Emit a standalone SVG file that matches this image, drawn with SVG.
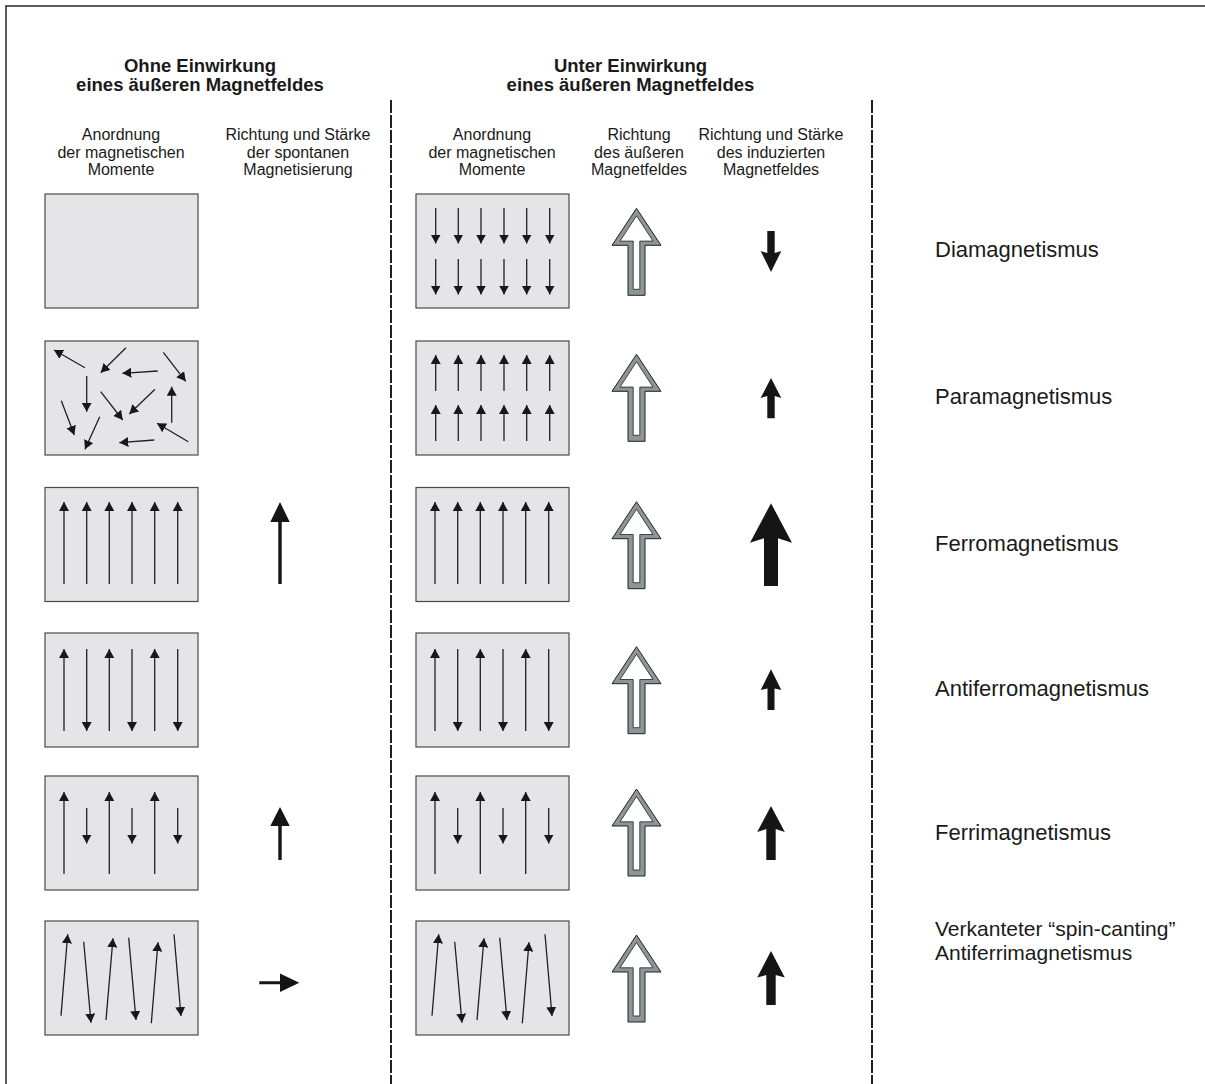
<svg xmlns="http://www.w3.org/2000/svg" xmlns:xlink="http://www.w3.org/1999/xlink" width="1205" height="1084" viewBox="0 0 1205 1084">
<style>
text{font-family:"Liberation Sans",Arial,sans-serif;fill:#1a1a1a}
.h{font-size:18.5px;font-weight:bold;text-anchor:middle}
.s{font-size:16px;text-anchor:middle}
.l{font-size:22px}
.l2{font-size:21px}
.box{fill:#e5e5e8;stroke:#4a4a4a;stroke-width:1.2}
.m{stroke:#231f20;stroke-width:1.3;fill:none}
.blk{fill:#151515}
.dash{stroke:#231f20;stroke-width:2;stroke-dasharray:13 2;fill:none}
</style>
<defs>
<marker id="ah" markerUnits="userSpaceOnUse" markerWidth="10" markerHeight="10" refX="9" refY="5" orient="auto" viewBox="0 0 10 10">
<path d="M0,0 L9,5 L0,10 z" fill="#1a1718"/>
</marker>
<g id="hollow">
<polygon points="0,0 24.5,37 8.5,37 8.5,87 -8.5,87 -8.5,37 -24.5,37" fill="#8c9598" stroke="#222" stroke-width="1"/>
<polygon points="0,7.5 16.5,32.8 3.3,32.8 3.3,81 -3.3,81 -3.3,32.8 -16.5,32.8" fill="#fff" stroke="#222" stroke-width="0.8"/>
</g>
</defs>
<rect x="6" y="6" width="1250" height="1130" fill="#fff" stroke="#333" stroke-width="1.6"/>

<g id="dividers">
<line class="dash" x1="391" y1="100" x2="391" y2="1084"/>
<line class="dash" x1="872" y1="100" x2="872" y2="1084"/>
</g>

<g id="header-left">
<text class="h" x="200" y="71.5">Ohne Einwirkung</text>
<text class="h" x="200" y="91">eines äußeren Magnetfeldes</text>
<text class="s" x="121" y="140">Anordnung</text>
<text class="s" x="121" y="157.5">der magnetischen</text>
<text class="s" x="121" y="175">Momente</text>
<text class="s" x="298" y="140">Richtung und Stärke</text>
<text class="s" x="298" y="157.5">der spontanen</text>
<text class="s" x="298" y="175">Magnetisierung</text>
</g>
<g id="header-right">
<text class="h" x="630.5" y="71.5">Unter Einwirkung</text>
<text class="h" x="630.5" y="91">eines äußeren Magnetfeldes</text>
<text class="s" x="492" y="140">Anordnung</text>
<text class="s" x="492" y="157.5">der magnetischen</text>
<text class="s" x="492" y="175">Momente</text>
<text class="s" x="639" y="140">Richtung</text>
<text class="s" x="639" y="157.5">des äußeren</text>
<text class="s" x="639" y="175">Magnetfeldes</text>
<text class="s" x="771" y="140">Richtung und Stärke</text>
<text class="s" x="771" y="157.5">des induzierten</text>
<text class="s" x="771" y="175">Magnetfeldes</text>
</g>

<!-- Row 1: Diamagnetismus -->
<g id="dia">
<rect class="box" x="45" y="194" width="153" height="114"/>
<rect class="box" x="416" y="194" width="153" height="114"/>
<g>
<line class="m" x1="435.7" y1="208" x2="435.7" y2="243.5" marker-end="url(#ah)"/>
<line class="m" x1="458.3" y1="208" x2="458.3" y2="243.5" marker-end="url(#ah)"/>
<line class="m" x1="481" y1="208" x2="481" y2="243.5" marker-end="url(#ah)"/>
<line class="m" x1="504" y1="208" x2="504" y2="243.5" marker-end="url(#ah)"/>
<line class="m" x1="526.7" y1="208" x2="526.7" y2="243.5" marker-end="url(#ah)"/>
<line class="m" x1="549.7" y1="208" x2="549.7" y2="243.5" marker-end="url(#ah)"/>
<line class="m" x1="435.7" y1="259" x2="435.7" y2="294.5" marker-end="url(#ah)"/>
<line class="m" x1="458.3" y1="259" x2="458.3" y2="294.5" marker-end="url(#ah)"/>
<line class="m" x1="481" y1="259" x2="481" y2="294.5" marker-end="url(#ah)"/>
<line class="m" x1="504" y1="259" x2="504" y2="294.5" marker-end="url(#ah)"/>
<line class="m" x1="526.7" y1="259" x2="526.7" y2="294.5" marker-end="url(#ah)"/>
<line class="m" x1="549.7" y1="259" x2="549.7" y2="294.5" marker-end="url(#ah)"/>
</g>
<use xlink:href="#hollow" href="#hollow" x="636.5" y="208.3"/>
<polygon class="blk" points="767.3,231 774.7,231 774.7,253 781.3,251 771,272 760.7,251 767.3,253"/>
<text class="l" x="935" y="257">Diamagnetismus</text>
</g>

<!-- Row 2: Paramagnetismus -->
<g id="para">
<rect class="box" x="45" y="341" width="153" height="114"/>
<g>
<line class="m" x1="85" y1="367.7" x2="54" y2="350" marker-end="url(#ah)"/>
<line class="m" x1="126" y1="347.7" x2="100.7" y2="372.7" marker-end="url(#ah)"/>
<line class="m" x1="157.7" y1="371" x2="122.3" y2="373.3" marker-end="url(#ah)"/>
<line class="m" x1="163.3" y1="352.3" x2="185.7" y2="381.3" marker-end="url(#ah)"/>
<line class="m" x1="86.7" y1="376" x2="86.7" y2="411.7" marker-end="url(#ah)"/>
<line class="m" x1="100.7" y1="391.7" x2="122.7" y2="420" marker-end="url(#ah)"/>
<line class="m" x1="155" y1="389.3" x2="129.3" y2="414" marker-end="url(#ah)"/>
<line class="m" x1="171.7" y1="422.7" x2="171.7" y2="386.7" marker-end="url(#ah)"/>
<line class="m" x1="61.3" y1="400.7" x2="74.3" y2="435" marker-end="url(#ah)"/>
<line class="m" x1="99.7" y1="416.7" x2="85" y2="449.3" marker-end="url(#ah)"/>
<line class="m" x1="154.3" y1="440" x2="119.3" y2="442.7" marker-end="url(#ah)"/>
<line class="m" x1="188.3" y1="441.7" x2="157" y2="423.3" marker-end="url(#ah)"/>
</g>
<rect class="box" x="416" y="341" width="153" height="114"/>
<g>
<line class="m" x1="435.7" y1="391" x2="435.7" y2="355" marker-end="url(#ah)"/>
<line class="m" x1="458.3" y1="391" x2="458.3" y2="355" marker-end="url(#ah)"/>
<line class="m" x1="481" y1="391" x2="481" y2="355" marker-end="url(#ah)"/>
<line class="m" x1="504" y1="391" x2="504" y2="355" marker-end="url(#ah)"/>
<line class="m" x1="526.7" y1="391" x2="526.7" y2="355" marker-end="url(#ah)"/>
<line class="m" x1="549.7" y1="391" x2="549.7" y2="355" marker-end="url(#ah)"/>
<line class="m" x1="435.7" y1="441" x2="435.7" y2="405" marker-end="url(#ah)"/>
<line class="m" x1="458.3" y1="441" x2="458.3" y2="405" marker-end="url(#ah)"/>
<line class="m" x1="481" y1="441" x2="481" y2="405" marker-end="url(#ah)"/>
<line class="m" x1="504" y1="441" x2="504" y2="405" marker-end="url(#ah)"/>
<line class="m" x1="526.7" y1="441" x2="526.7" y2="405" marker-end="url(#ah)"/>
<line class="m" x1="549.7" y1="441" x2="549.7" y2="405" marker-end="url(#ah)"/>
</g>
<use xlink:href="#hollow" href="#hollow" x="636.5" y="354.3"/>
<polygon class="blk" points="771,378 781.3,398 774.7,396 774.7,418.3 767.3,418.3 767.3,396 760.7,398"/>
<text class="l" x="935" y="404">Paramagnetismus</text>
</g>

<!-- Row 3: Ferromagnetismus -->
<g id="ferro">
<rect class="box" x="45" y="487.5" width="153" height="114"/>
<g>
<line class="m" x1="64" y1="584" x2="64" y2="502" marker-end="url(#ah)"/>
<line class="m" x1="86.7" y1="584" x2="86.7" y2="502" marker-end="url(#ah)"/>
<line class="m" x1="109.3" y1="584" x2="109.3" y2="502" marker-end="url(#ah)"/>
<line class="m" x1="132" y1="584" x2="132" y2="502" marker-end="url(#ah)"/>
<line class="m" x1="154.7" y1="584" x2="154.7" y2="502" marker-end="url(#ah)"/>
<line class="m" x1="177.7" y1="584" x2="177.7" y2="502" marker-end="url(#ah)"/>
</g>
<polygon class="blk" points="280,502 289.7,522 281.7,522 281.7,584 278.3,584 278.3,522 270.3,522"/>
<rect class="box" x="416" y="487.5" width="153" height="114"/>
<g>
<line class="m" x1="435" y1="584" x2="435" y2="502" marker-end="url(#ah)"/>
<line class="m" x1="457.7" y1="584" x2="457.7" y2="502" marker-end="url(#ah)"/>
<line class="m" x1="480.3" y1="584" x2="480.3" y2="502" marker-end="url(#ah)"/>
<line class="m" x1="503" y1="584" x2="503" y2="502" marker-end="url(#ah)"/>
<line class="m" x1="525.7" y1="584" x2="525.7" y2="502" marker-end="url(#ah)"/>
<line class="m" x1="548.7" y1="584" x2="548.7" y2="502" marker-end="url(#ah)"/>
</g>
<use xlink:href="#hollow" href="#hollow" x="636.5" y="501.7"/>
<polygon class="blk" points="771,503.3 792,542.7 778,538.3 778,586 764,586 764,538.3 750,542.7"/>
<text class="l" x="935" y="550.5">Ferromagnetismus</text>
</g>

<!-- Row 4: Antiferromagnetismus -->
<g id="antiferro">
<rect class="box" x="45" y="633" width="153" height="114"/>
<g>
<line class="m" x1="64" y1="731" x2="64" y2="649" marker-end="url(#ah)"/>
<line class="m" x1="86.7" y1="649" x2="86.7" y2="731" marker-end="url(#ah)"/>
<line class="m" x1="109.3" y1="731" x2="109.3" y2="649" marker-end="url(#ah)"/>
<line class="m" x1="132" y1="649" x2="132" y2="731" marker-end="url(#ah)"/>
<line class="m" x1="154.7" y1="731" x2="154.7" y2="649" marker-end="url(#ah)"/>
<line class="m" x1="177.7" y1="649" x2="177.7" y2="731" marker-end="url(#ah)"/>
</g>
<rect class="box" x="416" y="633" width="153" height="114"/>
<g>
<line class="m" x1="435" y1="731" x2="435" y2="649" marker-end="url(#ah)"/>
<line class="m" x1="457.7" y1="649" x2="457.7" y2="731" marker-end="url(#ah)"/>
<line class="m" x1="480.3" y1="731" x2="480.3" y2="649" marker-end="url(#ah)"/>
<line class="m" x1="503" y1="649" x2="503" y2="731" marker-end="url(#ah)"/>
<line class="m" x1="525.7" y1="731" x2="525.7" y2="649" marker-end="url(#ah)"/>
<line class="m" x1="548.7" y1="649" x2="548.7" y2="731" marker-end="url(#ah)"/>
</g>
<use xlink:href="#hollow" href="#hollow" x="636.5" y="646.7"/>
<polygon class="blk" points="771,669.3 781.3,690 774.5,688.5 774.5,710 767.5,710 767.5,688.5 760.7,690"/>
<text class="l" x="935" y="696">Antiferromagnetismus</text>
</g>

<!-- Row 5: Ferrimagnetismus -->
<g id="ferri">
<rect class="box" x="45" y="776" width="153" height="114"/>
<g>
<line class="m" x1="64" y1="874" x2="64" y2="792" marker-end="url(#ah)"/>
<line class="m" x1="86.7" y1="808" x2="86.7" y2="843.5" marker-end="url(#ah)"/>
<line class="m" x1="109.3" y1="874" x2="109.3" y2="792" marker-end="url(#ah)"/>
<line class="m" x1="132" y1="808" x2="132" y2="843.5" marker-end="url(#ah)"/>
<line class="m" x1="154.7" y1="874" x2="154.7" y2="792" marker-end="url(#ah)"/>
<line class="m" x1="177.7" y1="808" x2="177.7" y2="843.5" marker-end="url(#ah)"/>
</g>
<polygon class="blk" points="280,807 289.7,826 281.7,826 281.7,860 278.3,860 278.3,826 270.3,826"/>
<rect class="box" x="416" y="776" width="153" height="114"/>
<g>
<line class="m" x1="435" y1="874" x2="435" y2="792" marker-end="url(#ah)"/>
<line class="m" x1="457.7" y1="808" x2="457.7" y2="843.5" marker-end="url(#ah)"/>
<line class="m" x1="480.3" y1="874" x2="480.3" y2="792" marker-end="url(#ah)"/>
<line class="m" x1="503" y1="808" x2="503" y2="843.5" marker-end="url(#ah)"/>
<line class="m" x1="525.7" y1="874" x2="525.7" y2="792" marker-end="url(#ah)"/>
<line class="m" x1="548.7" y1="808" x2="548.7" y2="843.5" marker-end="url(#ah)"/>
</g>
<use xlink:href="#hollow" href="#hollow" x="636.5" y="789"/>
<polygon class="blk" points="771,806 784.8,832 775.7,829 775.7,860 766.3,860 766.3,829 757.2,832"/>
<text class="l" x="935" y="839.5">Ferrimagnetismus</text>
</g>

<!-- Row 6: Verkanteter Antiferrimagnetismus -->
<g id="canted">
<rect class="box" x="45" y="921" width="153" height="114"/>
<g>
<line class="m" x1="61" y1="1015.7" x2="67.7" y2="934.3" marker-end="url(#ah)"/>
<line class="m" x1="83.7" y1="941.7" x2="91" y2="1022.7" marker-end="url(#ah)"/>
<line class="m" x1="106" y1="1020" x2="113" y2="938.3" marker-end="url(#ah)"/>
<line class="m" x1="128.7" y1="937.7" x2="136" y2="1020" marker-end="url(#ah)"/>
<line class="m" x1="151.3" y1="1023.3" x2="158" y2="942.3" marker-end="url(#ah)"/>
<line class="m" x1="174" y1="934.3" x2="181" y2="1016" marker-end="url(#ah)"/>
</g>
<polygon class="blk" points="299.3,982.7 280,992 280,984.2 259.3,984.2 259.3,981.2 280,981.2 280,973.5"/>
<rect class="box" x="416" y="921" width="153" height="114"/>
<g>
<line class="m" x1="432" y1="1015.7" x2="438.7" y2="934.3" marker-end="url(#ah)"/>
<line class="m" x1="454.7" y1="941.7" x2="462" y2="1022.7" marker-end="url(#ah)"/>
<line class="m" x1="477" y1="1020" x2="484" y2="938.3" marker-end="url(#ah)"/>
<line class="m" x1="499.7" y1="937.7" x2="507" y2="1020" marker-end="url(#ah)"/>
<line class="m" x1="522.3" y1="1023.3" x2="529" y2="942.3" marker-end="url(#ah)"/>
<line class="m" x1="545" y1="934.3" x2="552" y2="1016" marker-end="url(#ah)"/>
</g>
<use xlink:href="#hollow" href="#hollow" x="636.5" y="935"/>
<polygon class="blk" points="771,951 784.8,977.5 775.7,975 775.7,1005 766.3,1005 766.3,975 757.2,977.5"/>
<text class="l2" x="935" y="935.5">Verkanteter “spin-canting”</text>
<text class="l2" x="935" y="959.5">Antiferrimagnetismus</text>
</g>
</svg>
